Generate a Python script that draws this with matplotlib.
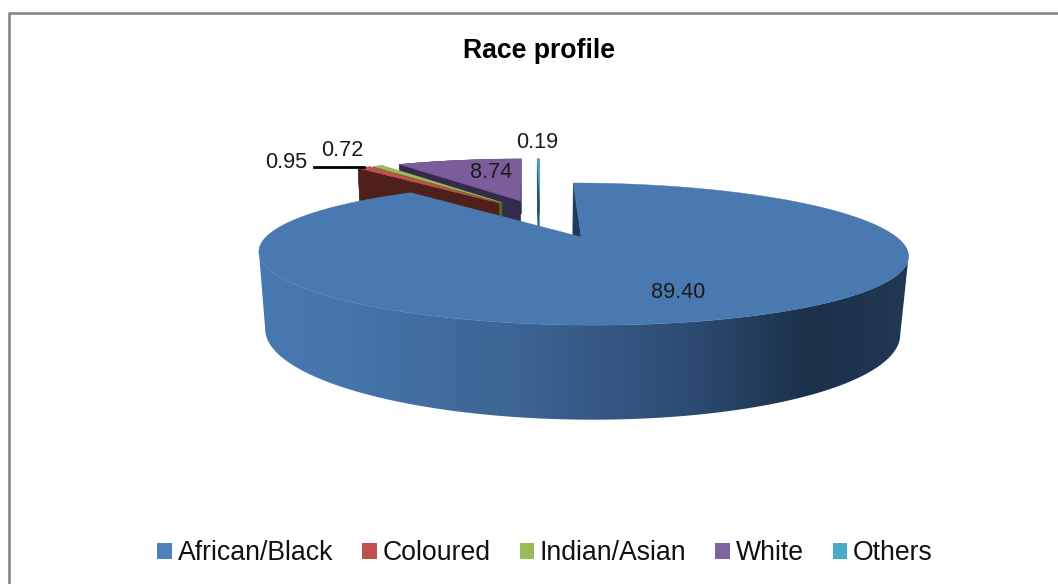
import numpy as np
import matplotlib
matplotlib.use("Agg")
import matplotlib.pyplot as plt
from matplotlib.colors import LinearSegmentedColormap
from matplotlib.lines import Line2D
from matplotlib.patches import Patch, Polygon

plt.rcParams['font.family'] = ['Liberation Sans', 'DejaVu Sans']

# ----------------
# Data
# ----------------
categories = ["African/Black", "Coloured", "Indian/Asian", "White", "Others"]
shares = [89.40, 0.95, 0.72, 8.74, 0.19]

top_colors = ["#4A78B0", "#C0504D", "#9BBB59", "#7B5D9B", "#4BACC6"]
face_colors = ["#1F3A5C", "#4F1F1C", "#4E6B22", "#352A4A", "#1F5A6B"]
legend_colors = ["#4F81BD", "#C0504D", "#9BBB59", "#8064A2", "#4BACC6"]
explode = [0.40, 0.25, 0.25, 0.25, 0.25]
edge_widths = [0.3, 0.3, 0.3, 0.3, 0]   # Others is too thin for an outline

# where the value labels sit, in pixels
label_pos = [(678, 293), (286, 163), (342, 150), (491, 173), (537, 143)]

# ----------------
# Perspective projection of the pie (disk of radius 1, z = 0 top, z = 1 bottom)
# ----------------
CX, CY = 540, 213.8
A, B = 289, 56.3
K = 0.22      # foreshortening front to back
DEPTH = 70
M = 0.02


def project(x, y, z=0.0):
    w = 1 + K * np.asarray(y) + M * z
    return CX + A * np.asarray(x) / w, CY - (B * np.asarray(y) - DEPTH * z) / w


def slice_points(start, end, e):
    # angles are clockwise from 12 o'clock, in degrees
    mid = np.radians((start + end) / 2)
    ox, oy = e * np.sin(mid), e * np.cos(mid)
    t = np.radians(np.linspace(start, end, 300))
    return ox, oy, ox + np.sin(t), oy + np.cos(t)


fig = plt.figure(figsize=(10.58, 5.84), dpi=100)
ax = fig.add_axes([0, 0, 1, 1])
ax.set_xlim(0, 1058)
ax.set_ylim(584, 0)
ax.axis('off')

# chart frame: only the left and top edges fall inside the image
ax.add_line(Line2D([8.8, 8.8, 1058], [584, 12.5, 12.5], color="#868686", lw=1.9))

# angles for each slice from the shares
ends = np.cumsum(shares) / np.sum(shares) * 360
starts = np.concatenate(([0], ends[:-1]))

# back slices first, African/Black last since it is in front
side_cmap = LinearSegmentedColormap.from_list("side", [
    (0.0, "#4878B0"), (0.12, "#4676AC"), (0.40, "#3D6494"), (0.68, "#2C4A70"),
    (0.85, "#1C3049"), (1.0, "#213854")])

for i in [4, 3, 2, 1, 0]:
    ox, oy, rx, ry = slice_points(starts[i], ends[i], explode[i])

    # rim wall, only the part between the two silhouette points faces the front
    tx, ty = project(rx, ry, 0)
    bx, by = project(rx, ry, 1)
    if i == 0:
        a, b = np.argmax(tx), np.argmin(tx)
        tx, ty, bx, by = tx[a:b + 1], ty[a:b + 1], bx[a:b + 1], by[a:b + 1]
    wall = np.column_stack([np.r_[tx, bx[::-1]], np.r_[ty, by[::-1]]])
    if i == 0:
        p = Polygon(wall, closed=True, fc='none', ec='none')
        ax.add_patch(p)
        grad = np.linspace(0, 1, 512).reshape(1, -1)
        im = ax.imshow(grad, cmap=side_cmap, extent=(258, 908, 420, 180),
                       aspect='auto', zorder=1 + 5 * (4 - i))
        im.set_clip_path(p)
    else:
        ax.add_patch(Polygon(wall, closed=True, fc=face_colors[i], ec=face_colors[i],
                             lw=edge_widths[i], zorder=1 + 5 * (4 - i)))

    # cut face on the start edge of the slice
    qx = [project(ox, oy, 0)[0], project(rx[0], ry[0], 0)[0],
          project(rx[0], ry[0], 1)[0], project(ox, oy, 1)[0]]
    qy = [project(ox, oy, 0)[1], project(rx[0], ry[0], 0)[1],
          project(rx[0], ry[0], 1)[1], project(ox, oy, 1)[1]]
    ax.add_patch(Polygon(np.column_stack([qx, qy]), closed=True, fc=face_colors[i],
                         ec=face_colors[i], lw=edge_widths[i], zorder=2 + 5 * (4 - i)))

    # top surface
    px, py = project(np.r_[ox, rx], np.r_[oy, ry], 0)
    ax.add_patch(Polygon(np.column_stack([px, py]), closed=True, fc=top_colors[i],
                         ec=top_colors[i], lw=edge_widths[i], zorder=3 + 5 * (4 - i)))

ax.set_xlim(0, 1058)
ax.set_ylim(584, 0)

# leader line for the Coloured label
ox, oy, rx, ry = slice_points(starts[1], ends[1], explode[1])
lx, ly = project(rx[150], ry[150], 0)
ax.add_line(Line2D([314, lx], [ly, ly], color="black", lw=2, zorder=30))

# value labels
for v, (x, y) in zip(shares, label_pos):
    ax.text(x, y, f"{v:.2f}", ha='center', va='center', fontsize=15.6,
            color="#1A1A1A", zorder=40)

ax.text(539, 51, "Race profile", ha='center', va='center', fontsize=19.2,
        fontweight='bold', color="black")

handles = [Patch(fc=c, ec='none', label=n) for c, n in zip(legend_colors, categories)]
fig.legend(handles=handles, loc='center', bbox_to_anchor=(545 / 1058, 1 - 553 / 584),
           ncols=5, frameon=False, fontsize=19.2, handlelength=0.55, handleheight=0.55,
           handletextpad=0.2, columnspacing=1.1, labelcolor="#111111",
           borderpad=0, borderaxespad=0)

fig.savefig("out.png", dpi=100)
